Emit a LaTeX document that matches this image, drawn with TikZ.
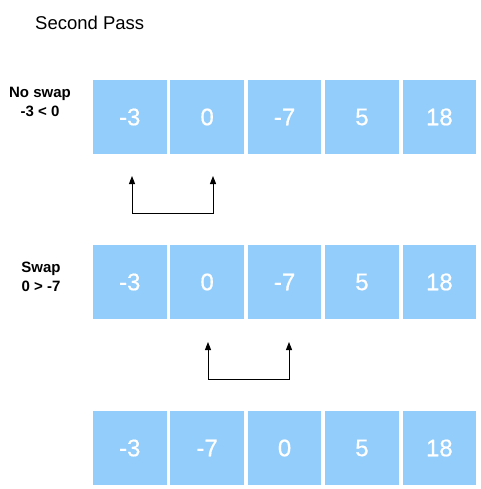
\documentclass[tikz,border=0pt]{standalone}
\usepackage{fontspec}
\setmainfont{Liberation Sans}
\newfontfamily\numfont{Liberation Sans}[FakeBold=0.6]
\usetikzlibrary{arrows.meta}
\definecolor{cellblue}{RGB}{146,205,251}
\begin{document}
\begin{tikzpicture}[x=1pt,y=-1pt,
  cell/.style={fill=cellblue,draw=none,minimum width=73.5pt,minimum height=74pt,inner sep=0pt,
    text=white,font=\numfont\fontsize{24}{28}\selectfont},
  lbl/.style={font=\bfseries\fontsize{15}{18.5}\selectfont,align=center},
  swaparrow/.style={-{Triangle[length=8pt,width=6pt]},line width=1pt,black}]
\useasboundingbox (0,0) rectangle (480,489);
\node[font=\fontsize{18.5}{22}\selectfont,anchor=west,inner sep=0pt] (title) at (35,23) {Second Pass};
% row 1
\foreach \v [count=\i] in {-3,0,-7,5,18}{
  \node[cell] (a\i) at ({129.75+77.4*(\i-1)},117) {\v};
}
\foreach \v [count=\i] in {-3,0,-7,5,18}{
  \node[cell] (b\i) at ({129.75+77.4*(\i-1)},282) {\v};
}
\foreach \v [count=\i] in {-3,-7,0,5,18}{
  \node[cell] (c\i) at ({129.75+77.4*(\i-1)},448) {\v};
}
\node[lbl] (l1) at (40,102) {No swap\\-3 < 0};
\node[lbl] (l2) at (41,277) {Swap\\0 > -7};
% arrows
\coordinate (p1) at (132,213);
\coordinate (p2) at (213,213);
\coordinate (t1) at (132,176);
\coordinate (t2) at (213,176);
\draw[swaparrow] (p1) -- (t1);
\draw[swaparrow] (p1) -- (p2) -- (t2);
\coordinate (q1) at (208,379);
\coordinate (q2) at (289,379);
\coordinate (s1) at (208,342);
\coordinate (s2) at (289,342);
\draw[swaparrow] (q1) -- (s1);
\draw[swaparrow] (q1) -- (q2) -- (s2);
\end{tikzpicture}
\end{document}
